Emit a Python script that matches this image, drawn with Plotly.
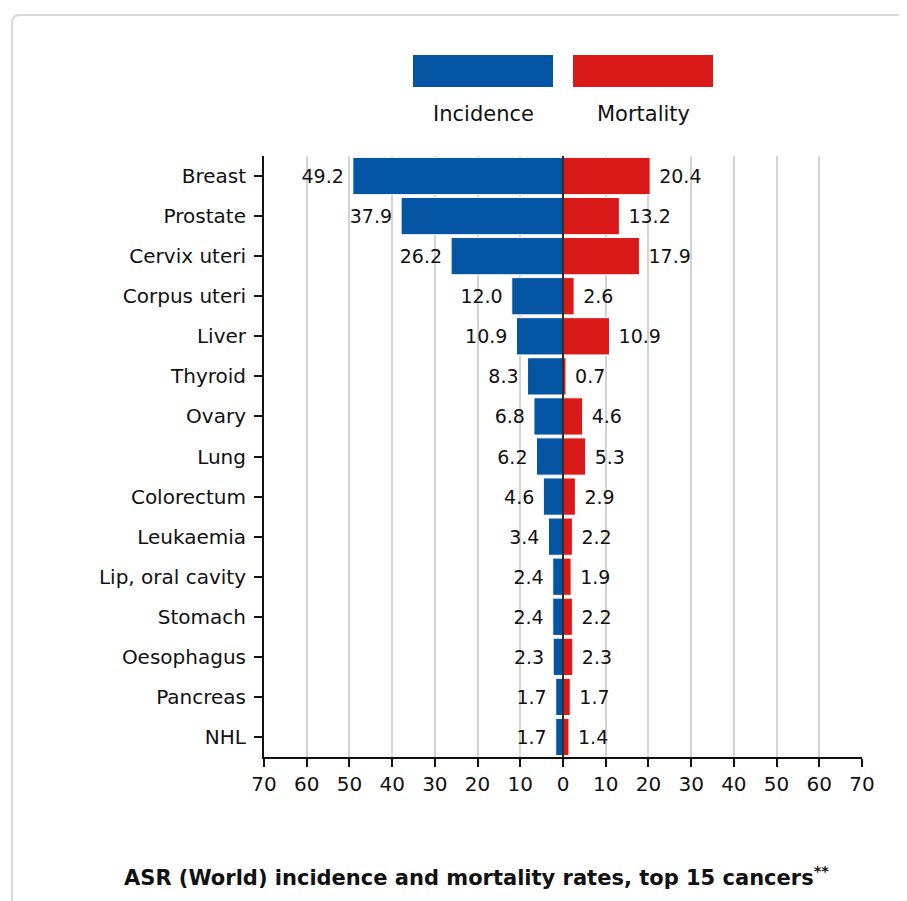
import plotly.graph_objects as go

categories = ["Breast", "Prostate", "Cervix uteri", "Corpus uteri", "Liver", "Thyroid", "Ovary",
              "Lung", "Colorectum", "Leukaemia", "Lip, oral cavity", "Stomach", "Oesophagus",
              "Pancreas", "NHL"]
incidence = [49.2, 37.9, 26.2, 12.0, 10.9, 8.3, 6.8, 6.2, 4.6, 3.4, 2.4, 2.4, 2.3, 1.7, 1.7]
mortality = [20.4, 13.2, 17.9, 2.6, 10.9, 0.7, 4.6, 5.3, 2.9, 2.2, 1.9, 2.2, 2.3, 1.7, 1.4]
tick_values = [-70, -60, -50, -40, -30, -20, -10, 0, 10, 20, 30, 40, 50, 60, 70]
tick_labels = [str(abs(v)) for v in tick_values]

BLUE = "#0455A4"
RED = "#DA1A18"
FONT = "DejaVu Sans"
OFF = 8  # page body margin
W, H = 899, 893
ML, MR, MT, MB = 256, 45, 148, 144
PW = W - ML - MR
PH = H - MT - MB


def px(xp):
    return (xp - OFF - ML) / PW


def py(yp):
    return (H - MB - (yp - OFF)) / PH


NB = "\u00a0"
fig = go.Figure()
fig.add_trace(go.Bar(
    y=categories, x=[-v for v in incidence], orientation="h",
    marker=dict(color=BLUE, line=dict(color="white", width=1)),
    text=[f"{v:.1f}{NB}" for v in incidence], textposition="outside",
    textfont=dict(family=FONT, size=19, color="#111"),
    cliponaxis=False, name="Incidence", showlegend=False,
))
fig.add_trace(go.Bar(
    y=categories, x=mortality, orientation="h",
    marker=dict(color=RED, line=dict(color="white", width=1)),
    text=[f"{NB}{v:.1f}" for v in mortality], textposition="outside",
    textfont=dict(family=FONT, size=19, color="#111"),
    cliponaxis=False, name="Mortality", showlegend=False,
))

shapes = []
# card border
x0, x1 = px(12), px(930)
y0, y1 = py(925), py(15)
rx = 8 / PW
ry = 8 / PH
shapes.append(dict(
    type="path", xref="paper", yref="paper", layer="below",
    path=(f"M {x0},{y0} L {x0},{y1 - ry} Q {x0},{y1} {x0 + rx},{y1} "
          f"L {x1},{y1}"),
    line=dict(color="#d9d9d9", width=2),
))
# zero line
shapes.append(dict(type="line", xref="x", yref="paper", x0=0, x1=0, y0=0, y1=1,
                   line=dict(color="#3a2a2a", width=2), layer="above"))
# legend swatches
shapes.append(dict(type="rect", xref="paper", yref="paper", x0=px(413), x1=px(553),
                   y0=py(87), y1=py(55), fillcolor=BLUE, line=dict(width=0)))
shapes.append(dict(type="rect", xref="paper", yref="paper", x0=px(573), x1=px(713),
                   y0=py(87), y1=py(55), fillcolor=RED, line=dict(width=0)))

annotations = [
    dict(text="Incidence", x=px(483), y=py(114), xref="paper", yref="paper",
         xanchor="center", yanchor="middle",
         showarrow=False, font=dict(family=FONT, size=21, color="#111")),
    dict(text="Mortality", x=px(643), y=py(114), xref="paper", yref="paper",
         xanchor="center", yanchor="middle",
         showarrow=False, font=dict(family=FONT, size=21, color="#111")),
    dict(text="<b>ASR (World) incidence and mortality rates, top 15 cancers<sup>**</sup></b>",
         x=px(476), y=py(876), xref="paper", yref="paper", showarrow=False,
         xanchor="center", yanchor="middle",
         font=dict(family=FONT, size=21, color="#111")),
]

fig.update_layout(
    width=W, height=H,
    margin=dict(l=ML, r=MR, t=MT, b=MB, pad=0),
    paper_bgcolor="white", plot_bgcolor="white",
    barmode="overlay", bargap=0.07,
    shapes=shapes, annotations=annotations,
    font=dict(family=FONT, size=20, color="#111"),
    xaxis=dict(range=[-70, 70], tickvals=tick_values, ticktext=tick_labels,
               showgrid=True, gridcolor="#d4d4d4", gridwidth=1.5, zeroline=False,
               showline=True, linecolor="#111", linewidth=2,
               ticks="outside", ticklen=8, tickwidth=2, tickcolor="#111",
               tickfont=dict(family=FONT, size=20, color="#111"), fixedrange=True),
    yaxis=dict(categoryorder="array", categoryarray=categories, autorange="reversed",
               showline=True, linecolor="#111", linewidth=2, showgrid=False,
               ticks="outside", ticklen=8, tickwidth=1.5, tickcolor="#111",
               ticklabelstandoff=4,
               tickfont=dict(family=FONT, size=20, color="#111"), fixedrange=True),
)

fig.write_html("out.html", config={"displayModeBar": False})
